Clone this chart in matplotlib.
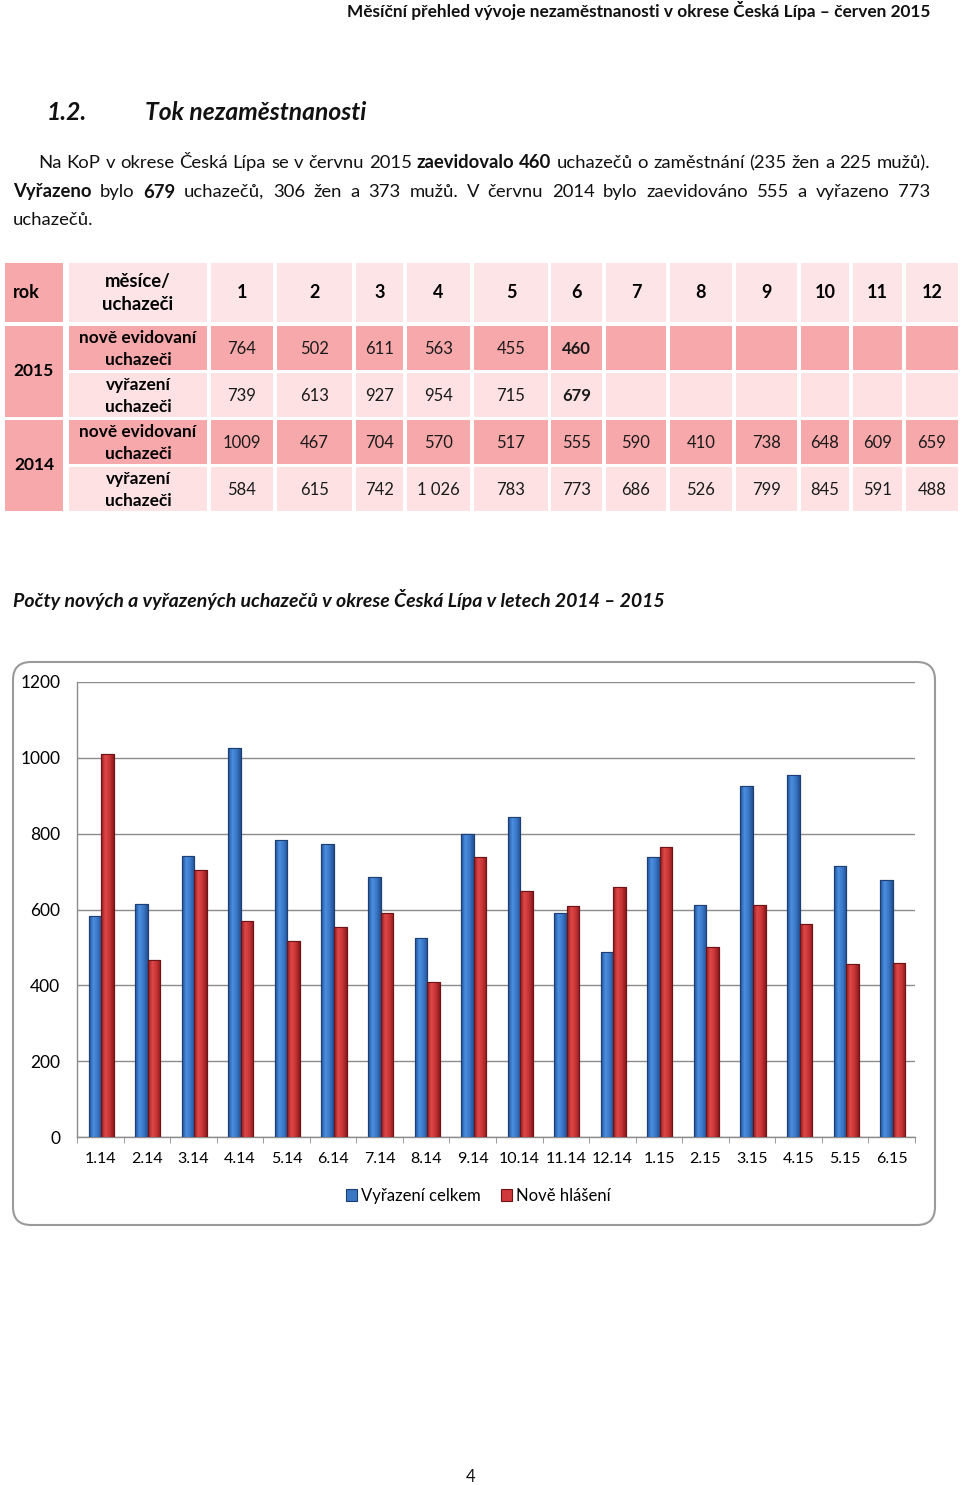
import matplotlib
matplotlib.use("Agg")
import matplotlib.pyplot as plt
import numpy as np
from matplotlib.patches import Rectangle, FancyBboxPatch
from matplotlib.colors import LinearSegmentedColormap

plt.rcParams['font.family'] = ['Lato', 'DejaVu Sans']

# ---------------- data ----------------
months = ["1", "2", "3", "4", "5", "6", "7", "8", "9", "10", "11", "12"]
new_2015 = ["764", "502", "611", "563", "455", "460", "", "", "", "", "", ""]
out_2015 = ["739", "613", "927", "954", "715", "679", "", "", "", "", "", ""]
new_2014 = ["1009", "467", "704", "570", "517", "555", "590", "410", "738", "648", "609", "659"]
out_2014 = ["584", "615", "742", "1 026", "783", "773", "686", "526", "799", "845", "591", "488"]

categories = ["1.14", "2.14", "3.14", "4.14", "5.14", "6.14", "7.14", "8.14", "9.14",
              "10.14", "11.14", "12.14", "1.15", "2.15", "3.15", "4.15", "5.15", "6.15"]
vyrazeni = [584, 615, 742, 1026, 783, 773, 686, 526, 799, 845, 591, 488,
            739, 613, 927, 954, 715, 679]
nove = [1009, 467, 704, 570, 517, 555, 590, 410, 738, 648, 609, 659,
        764, 502, 611, 563, 455, 460]
yticks = [0, 200, 400, 600, 800, 1000, 1200]

W, H = 960, 1485
fig = plt.figure(figsize=(W / 100, H / 100), dpi=100)
bg = fig.add_axes([0, 0, 1, 1])
bg.set_xlim(0, W)
bg.set_ylim(H, 0)
bg.axis('off')

fig.canvas.draw()
renderer = fig.canvas.get_renderer()


def text_width(s, size, weight='normal', style='normal'):
    t = bg.text(0, 0, s, fontsize=size, fontweight=weight, fontstyle=style)
    bb = t.get_window_extent(renderer=renderer)
    t.remove()
    return bb.width


def draw_runs(runs, x, y, size, justify_to=None):
    words = []
    for txt, bold in runs:
        for w in txt.split():
            words.append((w, bold))
    widths = [text_width(w, size, 'bold' if b else 'normal') for w, b in words]
    space = text_width("a a", size) - text_width("aa", size)
    if justify_to is not None and len(words) > 1:
        space = (justify_to - x - sum(widths)) / (len(words) - 1)
    cx = x
    for (w, b), wd in zip(words, widths):
        bg.text(cx, y, w, fontsize=size, fontweight='bold' if b else 'normal',
                va='center', ha='left', color='#111111')
        cx += wd + space


# ---------------- header texts ----------------
bg.text(930, 11, "Měsíční přehled vývoje nezaměstnanosti v okrese Česká Lípa – červen 2015",
        fontsize=12.4, fontweight='bold', ha='right', va='center', color='#111111')
bg.text(47, 113, "1.2.", fontsize=17.7, fontweight='bold', fontstyle='italic',
        ha='left', va='center', color='#111111')
bg.text(145, 113, "Tok nezaměstnanosti", fontsize=17.7, fontweight='bold', fontstyle='italic',
        ha='left', va='center', color='#111111')

body_size = 13.3
draw_runs([("Na KoP v okrese Česká Lípa se v červnu 2015", False), ("zaevidovalo 460", True),
           ("uchazečů o zaměstnání (235 žen a 225 mužů).", False)], 38, 163, body_size, justify_to=930)
draw_runs([("Vyřazeno", True), ("bylo", False), ("679", True),
           ("uchazečů, 306 žen a 373 mužů. V červnu 2014 bylo zaevidováno 555 a vyřazeno 773", False)],
          13, 192, body_size, justify_to=930)
draw_runs([("uchazečů.", False)], 13, 220, body_size)

# ---------------- table ----------------
dark = '#f7a8aa'
light = '#fde1e3'
head = '#fde4e6'
col_edges = [(211, 273), (277, 352), (356, 403), (407, 470), (474, 548), (551, 602),
             (606, 666), (670, 732), (736, 797), (801, 849), (853, 902), (906, 958)]
row_edges = [(263, 322), (326, 370), (373, 417), (420, 464), (467, 511)]


def cell(x0, x1, y0, y1, color):
    bg.add_patch(Rectangle((x0, y0), x1 - x0, y1 - y0, facecolor=color, edgecolor='none'))


# rok column
cell(5, 63, 263, 322, dark)
cell(5, 63, 326, 417, dark)
cell(5, 63, 420, 511, dark)
bg.text(13, 293, "rok", fontsize=13, fontweight='bold', ha='left', va='center')
bg.text(34, 371, "2015", fontsize=12.5, fontweight='bold', ha='center', va='center')
bg.text(34, 465, "2014", fontsize=12.5, fontweight='bold', ha='center', va='center')

# label column
cell(69, 207, 263, 322, head)
row_cols = [dark, light, dark, light]
for (y0, y1), c in zip(row_edges[1:], row_cols):
    cell(69, 207, y0, y1, c)
bg.text(138, 293, "měsíce/\nuchazeči", fontsize=13.3, fontweight='bold', ha='center', va='center',
        linespacing=1.5)
labels = ["nově evidovaní\nuchazeči", "vyřazení\nuchazeči", "nově evidovaní\nuchazeči", "vyřazení\nuchazeči"]
for (y0, y1), lab in zip(row_edges[1:], labels):
    bg.text(138, (y0 + y1) / 2 + 1, lab, fontsize=12.4, fontweight='bold', ha='center', va='center',
            linespacing=1.4)

rows = [new_2015, out_2015, new_2014, out_2014]
for j, (x0, x1) in enumerate(col_edges):
    cell(x0, x1, 263, 322, head)
    bg.text((x0 + x1) / 2, 293, months[j], fontsize=13, fontweight='bold', ha='center', va='center')
    for i, ((y0, y1), c) in enumerate(zip(row_edges[1:], row_cols)):
        cell(x0, x1, y0, y1, c)
        val = rows[i][j]
        bold = (i in (0, 1) and j == 5)
        bg.text((x0 + x1) / 2, (y0 + y1) / 2 + 1, val, fontsize=12,
                fontweight='bold' if bold else 'normal', ha='center', va='center', color='#1a1a1a')

# chart title
bg.text(13, 600, "Počty nových a vyřazených uchazečů v okrese Česká Lípa v letech 2014 – 2015",
        fontsize=14.0, fontweight='bold', fontstyle='italic', ha='left', va='center', color='#111111')

# chart frame
bg.add_patch(FancyBboxPatch((13, 662), 922, 563, boxstyle="round,pad=0,rounding_size=18",
                            facecolor='white', edgecolor='#9a9a9a', linewidth=1.5))

# page number
bg.text(471, 1477, "4", fontsize=12, ha='center', va='center', color='#111111')

# ---------------- chart ----------------
ax = fig.add_axes([77 / W, (H - 1137) / H, (915 - 77) / W, (1137 - 682) / H])
ax.set_zorder(2)
ax.patch.set_alpha(0)
n = len(categories)
xc = np.arange(n) + 0.5
bw = 0.27
b1 = ax.bar(xc - bw / 2 + 0.02, vyrazeni, bw, color='#3a76c4', edgecolor='#1d3f73',
            linewidth=0.8, zorder=3, label="Vyřazení celkem")
b2 = ax.bar(xc + bw / 2 + 0.02, nove, bw, color='#d0393a', edgecolor='#6e1416',
            linewidth=0.8, zorder=3, label="Nově hlášení")

blue_cm = LinearSegmentedColormap.from_list('b', ['#1f4f96', '#4c8ee0', '#3a78c8', '#234f90'])
red_cm = LinearSegmentedColormap.from_list('r', ['#8e1c1e', '#e04848', '#c83436', '#8a1a1c'])
grad = np.linspace(0, 1, 64).reshape(1, -1)
for bars, cm in ((b1, blue_cm), (b2, red_cm)):
    for p in bars:
        x0, w, h = p.get_x(), p.get_width(), p.get_height()
        im = ax.imshow(grad, cmap=cm, aspect='auto', extent=[x0, x0 + w, 0, h], zorder=3.5,
                       interpolation='bilinear')
        im.set_clip_path(p)
        ax.add_patch(Rectangle((x0, 0), w, h, facecolor='none', edgecolor=p.get_edgecolor(),
                               linewidth=0.8, zorder=4))

ax.set_xlim(0, n)
ax.set_ylim(0, 1200)
ax.set_yticks(yticks)
ax.set_yticklabels([str(v) for v in yticks], fontsize=12.5)
ax.set_xticks(xc)
ax.set_xticklabels(categories, fontsize=11.5)
ax.set_xticks(np.arange(n + 1), minor=True)
ax.tick_params(axis='x', which='major', length=0, pad=11)
ax.tick_params(axis='x', which='minor', length=4, color='#8c8c8c')
ax.tick_params(axis='y', length=0, pad=12)
ax.yaxis.grid(True, color='#8c8c8c', linewidth=1, zorder=0)
ax.set_axisbelow(True)
for s in ('top', 'right'):
    ax.spines[s].set_visible(False)
for s in ('left', 'bottom'):
    ax.spines[s].set_color('#8c8c8c')
    ax.spines[s].set_linewidth(1)

leg = fig.legend(handles=[b1, b2], loc='center', bbox_to_anchor=(478 / W, (H - 1196) / H),
                 ncol=2, frameon=False, fontsize=12, handlelength=0.7, handleheight=0.7,
                 handletextpad=0.2, columnspacing=1.2)

fig.savefig("out.png", dpi=100)
